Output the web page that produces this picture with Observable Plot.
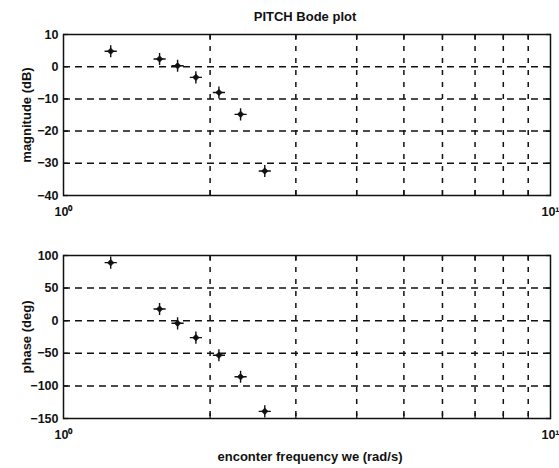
<!DOCTYPE html>
<html><head><meta charset="utf-8">
<script src="https://cdn.jsdelivr.net/npm/d3@7"></script>
<script src="https://cdn.jsdelivr.net/npm/@observablehq/plot@0.6"></script>
<style>
body{margin:0;background:#fff;}
#wrap{position:relative;width:559px;height:468px;overflow:hidden;font-family:"Liberation Sans",Arial,sans-serif;background:#fff;}
.t{position:absolute;font-weight:bold;font-size:13px;color:#111;white-space:nowrap;}
.yl{position:absolute;font-weight:bold;font-size:13px;color:#111;white-space:nowrap;transform:translate(-50%,-50%) rotate(-90deg);}
.p{position:absolute;left:0;}
</style></head><body>
<div id="wrap">
  <div class="t" style="left:0;width:610px;text-align:center;top:9px">PITCH Bode plot</div>
  <div class="p" id="p1" style="top:0"></div>
  <div class="p" id="p2" style="top:230px"></div>
  <div class="yl" style="left:26px;top:115px">magnitude (dB)</div>
  <div class="yl" style="left:26px;top:337px">phase (deg)</div>
  <div class="t" style="left:0;width:620px;text-align:center;top:449px">enconter frequency we (rad/s)</div>
</div>
<script>
// encounter frequency (rad/s)
const freq = [1.25, 1.575, 1.715, 1.87, 2.085, 2.31, 2.59];
// magnitude (dB)
const magnitude = [4.8, 2.4, 0.3, -3.3, -8.0, -14.8, -32.4];
// phase (deg)
const phase = [89, 18, -4, -26, -53, -86, -139];
// axes
const gridFreq = [2, 3, 4, 5, 6, 7, 8, 9];
const decadeTicks = [1, 10];
const decadeLabels = ["10\u2070", "10\u00B9"];
const magTicks = [10, 0, -10, -20, -30, -40];
const phaseTicks = [100, 50, 0, -50, -100, -150];

const font = '"Liberation Sans", Arial, sans-serif';

function bode(values, yDomain, yTicks, height, mt, mb) {
  const data = freq.map((f, i) => ({f, v: values[i]}));
  const inner = yTicks.filter(t => t > yDomain[0] && t < yDomain[1]);
  return Plot.plot({
    width: 559, height, marginLeft: 63, marginRight: 9, marginTop: mt, marginBottom: mb,
    style: {fontFamily: font, fontSize: "12.5px", fontWeight: "bold", color: "#111", background: "transparent", overflow: "visible"},
    x: {type: "log", domain: [1, 10]},
    y: {domain: yDomain},
    marks: [
      Plot.ruleY(inner, {stroke: "#111", strokeWidth: 1.5, strokeDasharray: "7,5"}),
      Plot.ruleX(gridFreq, {stroke: "#111", strokeWidth: 1.5, strokeDasharray: "5,7"}),
      Plot.frame({stroke: "#111", strokeWidth: 1.5}),
      Plot.axisY({anchor: "left", ticks: yTicks, tickSize: 0, tickPadding: 5, label: null}),
      Plot.axisY({anchor: "left", ticks: yTicks, tickSize: -5, tickFormat: () => "", label: null, strokeWidth: 1.3}),
      Plot.axisY({anchor: "right", ticks: yTicks, tickSize: -5, tickFormat: () => "", label: null, strokeWidth: 1.3}),
      Plot.axisX({anchor: "bottom", ticks: gridFreq, tickSize: -5, tickFormat: () => "", label: null, strokeWidth: 1.3}),
      Plot.axisX({anchor: "top", ticks: gridFreq, tickSize: -5, tickFormat: () => "", label: null, strokeWidth: 1.3}),
      Plot.axisX({anchor: "bottom", ticks: decadeTicks, tickSize: 0, tickPadding: 12,
                  tickFormat: d => decadeLabels[decadeTicks.indexOf(d)], label: null}),
      Plot.dot(data, {x: "f", y: "v", symbol: "plus", r: 4, stroke: "#111", strokeWidth: 1.4}),
      Plot.dot(data, {x: "f", y: "v", symbol: "diamond2", r: 3, fill: "#111", stroke: "#111", strokeWidth: 0.5})
    ]
  });
}

document.getElementById("p1").append(bode(magnitude, [-40, 10], magTicks, 228, 34, 33));
document.getElementById("p2").append(bode(phase, [-150, 100], phaseTicks, 238, 25, 50));
</script>
</body></html>
